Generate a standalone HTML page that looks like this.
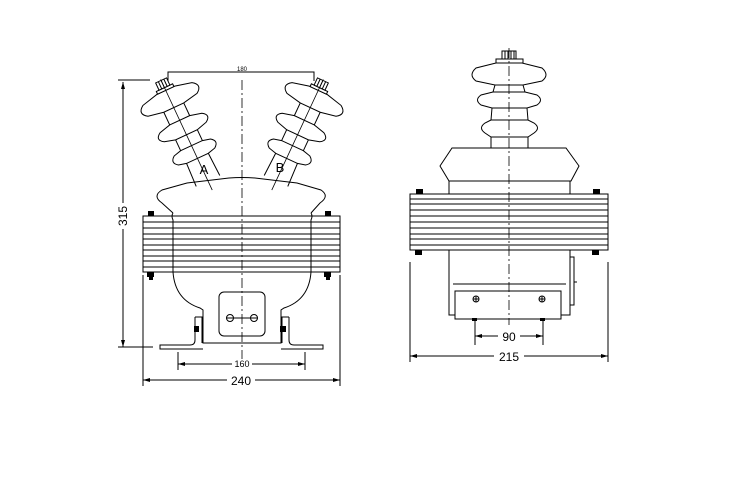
<!DOCTYPE html>
<html><head><meta charset="utf-8"><style>
html,body{margin:0;padding:0;background:#fff;}
svg{display:block;}
text{font-family:"Liberation Sans",sans-serif;fill:#000;}
</style></head><body>
<svg width="756" height="486" viewBox="0 0 756 486" xmlns="http://www.w3.org/2000/svg">
<defs>
<g id="ins">
  <path d="M-13,0 L-12,-25 M13,0 L12,-25 M-12,-39 L-12,-51 M12,-39 L12,-51 M-11,-67 L-11,-81 M11,-67 L11,-81" stroke="#000" fill="none"/>
  <path d="M-12,-25 L-20,-27 Q-27,-32 -20,-37 L-12,-39 L12,-39 L20,-37 Q27,-32 20,-27 L12,-25 Z" stroke="#000" fill="#fff"/>
  <path d="M-12,-51 L-23,-54 Q-31,-59 -23,-64 L-11,-67 L11,-67 L23,-64 Q31,-59 23,-54 L12,-51 Z" stroke="#000" fill="#fff"/>
  <path d="M-11,-81 L-27,-84 Q-36,-90 -27,-96 L-10,-100 L10,-100 L27,-96 Q36,-90 27,-84 L11,-81 Z" stroke="#000" fill="#fff"/>
  <rect x="-9" y="-103" width="18" height="3" fill="#fff" stroke="#000"/>
  <rect x="-6" y="-111" width="12" height="8" fill="#fff" stroke="#000"/>
  <path d="M-3,-111 V-103 M0,-111 V-103 M3,-111 V-103" stroke="#000"/>
  <line x1="0" y1="10" x2="0" y2="-112" stroke="#000" stroke-width="0.8"/>
</g>
</defs>
<g stroke="#000" fill="none" stroke-width="1">
<!-- LEFT VIEW -->
<use href="#ins" transform="translate(208,181) rotate(-25)"/>
<use href="#ins" transform="translate(276,181) rotate(25)"/>
<path d="M187,183 L229,178 Q242,177 255,178 L297,183 L321,190 Q330,196 320,203 L311,213 M187,183 L162,190 Q152,196 162,203 L173,213" fill="none"/>
<rect x="143" y="216" width="197" height="56" fill="#fff"/>
<path d="M143,222 H340 M143,228 H340 M143,234 H340 M143,239 H340 M143,245 H340 M143,250 H340 M143,256 H340 M143,261 H340 M143,267 H340"/>
<path d="M173,213 Q171,216 173,220 V272 Q175,300 200,308 L203,310 V343 H281 V310 L284,308 Q309,300 311,272 V220 Q313,216 311,213"/>
<line x1="242" y1="80" x2="242" y2="360" stroke-dasharray="10,3,2,3" stroke-width="0.8"/>
<rect x="219" y="292" width="46" height="44" rx="5"/>
<line x1="226" y1="318" x2="258" y2="318"/>
<circle cx="230" cy="318" r="3.5"/><circle cx="254" cy="318" r="3.5"/>
<path d="M195,317 H202 V343 M195,317 V340 Q195,345 190,345 H160 V349 H203"/>
<path d="M289,317 H282 V343 M289,317 V340 Q289,345 294,345 H323 V349 H281"/>
<path d="M118,80 H150 M118,347 H153 M123,82 V347"/>
<path d="M143,275 V386 M340,275 V386 M143,380 H340"/>
<path d="M178,352 V370 M305,352 V370 M178,364 H305"/>
<path d="M168,81 V72 H314 V81"/>
<!-- RIGHT VIEW -->
<path d="M495,85 L493,92 M523,85 L525,92 M492,108 L491,120 M527,108 L528,120 M491,137 L491,148 M528,137 L528,148"/>
<path d="M496,63 L476,68 Q468,75 476,81 L495,85 L523,85 L542,81 Q550,75 542,68 L522,63 Z" fill="#fff"/>
<path d="M493,92 L481,95 Q474,100 481,105 L492,108 L527,108 L537,105 Q544,100 537,95 L525,92 Z" fill="#fff"/>
<path d="M491,120 L485,123 Q478,128 485,133 L491,137 L528,137 L534,133 Q541,128 534,123 L528,120 Z" fill="#fff"/>
<rect x="496" y="59" width="27" height="4" fill="#fff"/>
<rect x="502" y="51" width="14" height="8" fill="#fff"/>
<path d="M505,51 V59 M508,51 V59 M511,51 V59 M514,51 V59"/>
<path d="M452,148 H566 L579,166 L571,181 H449 L440,166 Z" fill="#fff"/>
<rect x="410" y="194" width="198" height="56" fill="#fff"/>
<path d="M410,199 H608 M410,204 H608 M410,210 H608 M410,216 H608 M410,222 H608 M410,228 H608 M410,234 H608 M410,239 H608 M410,245 H608"/>
<path d="M449,181 V194 M570,181 V194 M449,250 V315 H570 V250"/>
<path d="M453,284 H566"/>
<rect x="455" y="291" width="106" height="28" fill="#fff"/>
<circle cx="476" cy="299" r="3"/><circle cx="542" cy="299" r="3"/>
<path d="M473,299 H479 M476,296 V302 M539,299 H545 M542,296 V302"/>
<path d="M570,257 H574 V305 H570 M574,282 H577"/>
<line x1="509" y1="48" x2="509" y2="325" stroke-dasharray="10,3,2,3" stroke-width="0.8"/>
<path d="M475,320 V345 M543,320 V345 M475,336 H543"/>
<path d="M410,262 V362 M608,262 V362 M410,356 H608"/>
</g>
<g fill="#000">
<rect x="148" y="211" width="6" height="5"/><rect x="325" y="211" width="6" height="5"/>
<rect x="147" y="272" width="7" height="5"/><rect x="324" y="272" width="7" height="5"/>
<rect x="149" y="277" width="4" height="3"/><rect x="326" y="277" width="4" height="3"/>
<rect x="194" y="326" width="5" height="6"/><rect x="280" y="326" width="6" height="6"/>
<rect x="416" y="189" width="7" height="5"/><rect x="593" y="189" width="7" height="5"/>
<rect x="415" y="250" width="7" height="5"/><rect x="592" y="250" width="7" height="5"/>
<rect x="472" y="318" width="5" height="3"/><rect x="540" y="318" width="5" height="3"/>
<path d="M123,82 l-2,7 h4z M123,347 l-2,-7 h4z"/>
<path d="M143,380 l7,-2 v4z M340,380 l-7,-2 v4z"/>
<path d="M178,364 l7,-2 v4z M305,364 l-7,-2 v4z"/>
<path d="M475,336 l7,-2 v4z M543,336 l-7,-2 v4z"/>
<path d="M410,356 l7,-2 v4z M608,356 l-7,-2 v4z"/>
</g>
<g>
<rect x="117" y="203" width="12" height="26" fill="#fff"/>
<text x="0" y="0" font-size="12" text-anchor="middle" transform="translate(127,216) rotate(-90)">315</text>
<rect x="227" y="374" width="28" height="12" fill="#fff"/>
<text x="241" y="385" font-size="12" text-anchor="middle">240</text>
<rect x="232" y="359" width="20" height="10" fill="#fff"/>
<text x="242" y="367" font-size="9" text-anchor="middle">160</text>
<text x="242" y="71" font-size="6" text-anchor="middle">180</text>
<rect x="498" y="330" width="22" height="12" fill="#fff"/>
<text x="509" y="341" font-size="12" text-anchor="middle">90</text>
<rect x="494" y="350" width="30" height="12" fill="#fff"/>
<text x="509" y="361" font-size="12" text-anchor="middle">215</text>
<text x="204" y="174" font-size="13" font-family="Liberation Serif,serif" text-anchor="middle">A</text>
<text x="280" y="172" font-size="13" font-family="Liberation Serif,serif" text-anchor="middle">B</text>
</g>
</svg>
</body></html>
